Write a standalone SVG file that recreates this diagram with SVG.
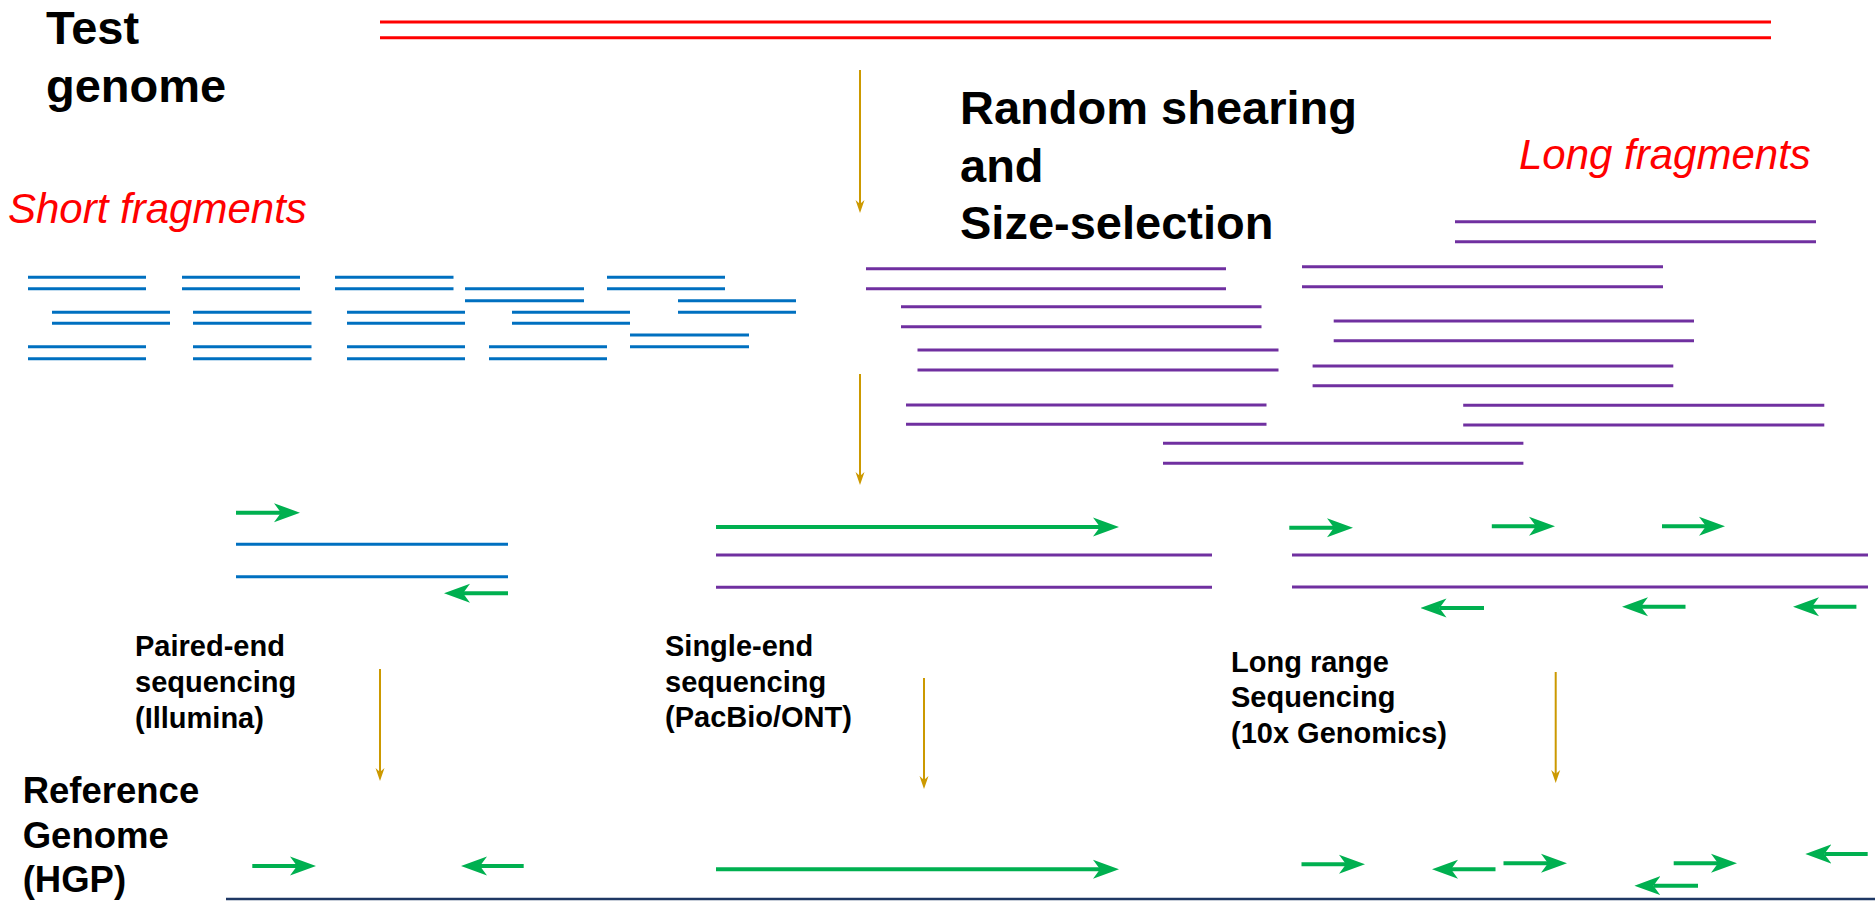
<svg xmlns="http://www.w3.org/2000/svg" width="1875" height="901" viewBox="0 0 1875 901">
  <defs>
    <style>
      .title { font-family: "Liberation Sans", Arial, sans-serif; font-weight: bold; font-size: 47px; fill: #000; }
      .frag { font-family: "Liberation Sans", Arial, sans-serif; font-style: italic; font-size: 42px; fill: #FF0000; }
      .method { font-family: "Liberation Sans", Arial, sans-serif; font-weight: bold; font-size: 29px; fill: #000; }
      .ref { font-family: "Liberation Sans", Arial, sans-serif; font-weight: bold; font-size: 36.5px; fill: #000; }
      .genome { stroke: #FF0000; stroke-width: 3; }
      .short { stroke: #0070C0; stroke-width: 3; }
      .long { stroke: #7030A0; stroke-width: 3; }
      .read { stroke: #00B050; stroke-width: 4; fill: none; marker-end: url(#readHead); }
      .step { stroke: #CC9900; stroke-width: 2; fill: none; marker-end: url(#stepHead); }
      .refline { stroke: #1F3864; stroke-width: 2.5; }
    </style>
    <!-- notched head for sequencing reads -->
    <marker id="readHead" viewBox="0 -10 26 20" markerWidth="26" markerHeight="20" refX="7" refY="0" orient="auto" markerUnits="userSpaceOnUse">
      <path d="M26 0 L0 -9.5 L7 0 L0 9.5 Z" fill="#00B050"/>
    </marker>
    <!-- slim head for process-step arrows -->
    <marker id="stepHead" viewBox="0 -5 13 10" markerWidth="13" markerHeight="10" refX="4" refY="0" orient="auto" markerUnits="userSpaceOnUse">
      <path d="M13 0 L0 -4.5 L4 0 L0 4.5 Z" fill="#CC9900"/>
    </marker>
  </defs>

  <rect width="1875" height="901" fill="#FFFFFF"/>

  <!-- test genome: double strand -->
  <g id="test-genome">
    <text class="title" x="46" y="44">Test</text>
    <text class="title" x="46" y="102">genome</text>
    <line class="genome" x1="380" y1="22" x2="1771" y2="22"/>
    <line class="genome" x1="380" y1="37.7" x2="1771" y2="37.7"/>
  </g>

  <g id="shearing">
    <text class="title" x="960" y="124">Random shearing</text>
    <text class="title" x="960" y="181.7">and</text>
    <text class="title" x="960" y="239.3">Size-selection</text>
  </g>

  <!-- short fragments -->
  <g id="short-fragments">
    <text class="frag" x="8" y="222.7">Short fragments</text>
    <line class="short" x1="28" y1="277.3" x2="146" y2="277.3"/><line class="short" x1="28" y1="288.7" x2="146" y2="288.7"/>
    <line class="short" x1="182" y1="277.3" x2="300" y2="277.3"/><line class="short" x1="182" y1="288.7" x2="300" y2="288.7"/>
    <line class="short" x1="335" y1="277.3" x2="453.5" y2="277.3"/><line class="short" x1="335" y1="288.7" x2="453.5" y2="288.7"/>
    <line class="short" x1="465" y1="288.7" x2="584" y2="288.7"/><line class="short" x1="465" y1="300.7" x2="584" y2="300.7"/>
    <line class="short" x1="607" y1="277.3" x2="725" y2="277.3"/><line class="short" x1="607" y1="288.7" x2="725" y2="288.7"/>
    <line class="short" x1="678" y1="300.7" x2="796" y2="300.7"/><line class="short" x1="678" y1="312.3" x2="796" y2="312.3"/>
    <line class="short" x1="52" y1="312.3" x2="170" y2="312.3"/><line class="short" x1="52" y1="323.3" x2="170" y2="323.3"/>
    <line class="short" x1="193" y1="312.3" x2="311.5" y2="312.3"/><line class="short" x1="193" y1="323.3" x2="311.5" y2="323.3"/>
    <line class="short" x1="347" y1="312.3" x2="465" y2="312.3"/><line class="short" x1="347" y1="323.3" x2="465" y2="323.3"/>
    <line class="short" x1="512" y1="312.3" x2="630" y2="312.3"/><line class="short" x1="512" y1="323.3" x2="630" y2="323.3"/>
    <line class="short" x1="630" y1="335" x2="749" y2="335"/><line class="short" x1="630" y1="346.7" x2="749" y2="346.7"/>
    <line class="short" x1="28" y1="346.7" x2="146" y2="346.7"/><line class="short" x1="28" y1="358.7" x2="146" y2="358.7"/>
    <line class="short" x1="193" y1="346.7" x2="311.5" y2="346.7"/><line class="short" x1="193" y1="358.7" x2="311.5" y2="358.7"/>
    <line class="short" x1="347" y1="346.7" x2="465" y2="346.7"/><line class="short" x1="347" y1="358.7" x2="465" y2="358.7"/>
    <line class="short" x1="489" y1="346.7" x2="607" y2="346.7"/><line class="short" x1="489" y1="358.7" x2="607" y2="358.7"/>
  </g>

  <!-- long fragments -->
  <g id="long-fragments">
    <text class="frag" x="1519" y="169.3">Long fragments</text>
    <line class="long" x1="866" y1="268.7" x2="1226" y2="268.7"/><line class="long" x1="866" y1="288.7" x2="1226" y2="288.7"/>
    <line class="long" x1="901" y1="306.7" x2="1261.5" y2="306.7"/><line class="long" x1="901" y1="326.7" x2="1261.5" y2="326.7"/>
    <line class="long" x1="917.5" y1="350" x2="1278.5" y2="350"/><line class="long" x1="917.5" y1="370" x2="1278.5" y2="370"/>
    <line class="long" x1="906" y1="405" x2="1266.5" y2="405"/><line class="long" x1="906" y1="424.3" x2="1266.5" y2="424.3"/>
    <line class="long" x1="1163" y1="443.3" x2="1523.4" y2="443.3"/><line class="long" x1="1163" y1="463.3" x2="1523.4" y2="463.3"/>
    <line class="long" x1="1455" y1="221.7" x2="1816" y2="221.7"/><line class="long" x1="1455" y1="241.7" x2="1816" y2="241.7"/>
    <line class="long" x1="1302" y1="266.7" x2="1663" y2="266.7"/><line class="long" x1="1302" y1="286.7" x2="1663" y2="286.7"/>
    <line class="long" x1="1333.7" y1="321" x2="1694" y2="321"/><line class="long" x1="1333.7" y1="340.7" x2="1694" y2="340.7"/>
    <line class="long" x1="1312.6" y1="366" x2="1673.3" y2="366"/><line class="long" x1="1312.6" y1="385.7" x2="1673.3" y2="385.7"/>
    <line class="long" x1="1463.2" y1="405.3" x2="1824.3" y2="405.3"/><line class="long" x1="1463.2" y1="425" x2="1824.3" y2="425"/>
  </g>

  <!-- paired-end sequencing -->
  <g id="paired-end">
    <line class="read" x1="236" y1="512.7" x2="281" y2="512.7"/>
    <line class="short" x1="236" y1="544.3" x2="508" y2="544.3"/>
    <line class="short" x1="236" y1="576.7" x2="508" y2="576.7"/>
    <line class="read" x1="508" y1="593.3" x2="463" y2="593.3"/>
    <text class="method" x="135" y="656">Paired-end</text>
    <text class="method" x="135" y="692">sequencing</text>
    <text class="method" x="135" y="728">(Illumina)</text>
  </g>

  <!-- single-end sequencing -->
  <g id="single-end">
    <line class="read" x1="716" y1="527" x2="1100" y2="527"/>
    <line class="long" x1="716" y1="555" x2="1212" y2="555"/>
    <line class="long" x1="716" y1="587.3" x2="1212" y2="587.3"/>
    <text class="method" x="665" y="656">Single-end</text>
    <text class="method" x="665" y="691.7">sequencing</text>
    <text class="method" x="665" y="727.3">(PacBio/ONT)</text>
  </g>

  <!-- linked-read sequencing -->
  <g id="long-range">
    <line class="read" x1="1289.3" y1="527.7" x2="1334" y2="527.7"/>
    <line class="read" x1="1491.8" y1="526.3" x2="1536" y2="526.3"/>
    <line class="read" x1="1662" y1="526.3" x2="1706" y2="526.3"/>
    <line class="long" x1="1292" y1="555" x2="1868" y2="555"/>
    <line class="long" x1="1292" y1="587" x2="1868" y2="587"/>
    <line class="read" x1="1484" y1="608" x2="1439.5" y2="608"/>
    <line class="read" x1="1685.5" y1="606.7" x2="1641" y2="606.7"/>
    <line class="read" x1="1856.4" y1="606.7" x2="1812" y2="606.7"/>
    <text class="method" x="1231" y="671.7">Long range</text>
    <text class="method" x="1231" y="707.3">Sequencing</text>
    <text class="method" x="1231" y="742.7">(10x Genomics)</text>
  </g>

  <!-- reads mapped on the reference -->
  <g id="reference-genome">
    <text class="ref" x="22.7" y="803.3">Reference</text>
    <text class="ref" x="22.7" y="847.7">Genome</text>
    <text class="ref" x="22.7" y="891.7">(HGP)</text>
    <line class="refline" x1="226" y1="899" x2="1875" y2="899"/>
    <line class="read" x1="252.3" y1="866" x2="297" y2="866"/>
    <line class="read" x1="523.7" y1="866" x2="480" y2="866"/>
    <line class="read" x1="716" y1="869.3" x2="1100" y2="869.3"/>
    <line class="read" x1="1301.5" y1="864.3" x2="1346" y2="864.3"/>
    <line class="read" x1="1495.5" y1="869.3" x2="1451" y2="869.3"/>
    <line class="read" x1="1503.5" y1="863.3" x2="1548" y2="863.3"/>
    <line class="read" x1="1698" y1="885.7" x2="1653.4" y2="885.7"/>
    <line class="read" x1="1673.7" y1="863.3" x2="1718" y2="863.3"/>
    <line class="read" x1="1867.7" y1="854" x2="1824.3" y2="854"/>
  </g>

  <!-- process steps -->
  <g id="connectors">
    <line class="step" x1="860" y1="70" x2="860" y2="204"/>
    <line class="step" x1="860" y1="374" x2="860" y2="476"/>
    <line class="step" x1="380" y1="669" x2="380" y2="772"/>
    <line class="step" x1="924" y1="678" x2="924" y2="780"/>
    <line class="step" x1="1555.7" y1="672" x2="1555.7" y2="774"/>
  </g>
</svg>
